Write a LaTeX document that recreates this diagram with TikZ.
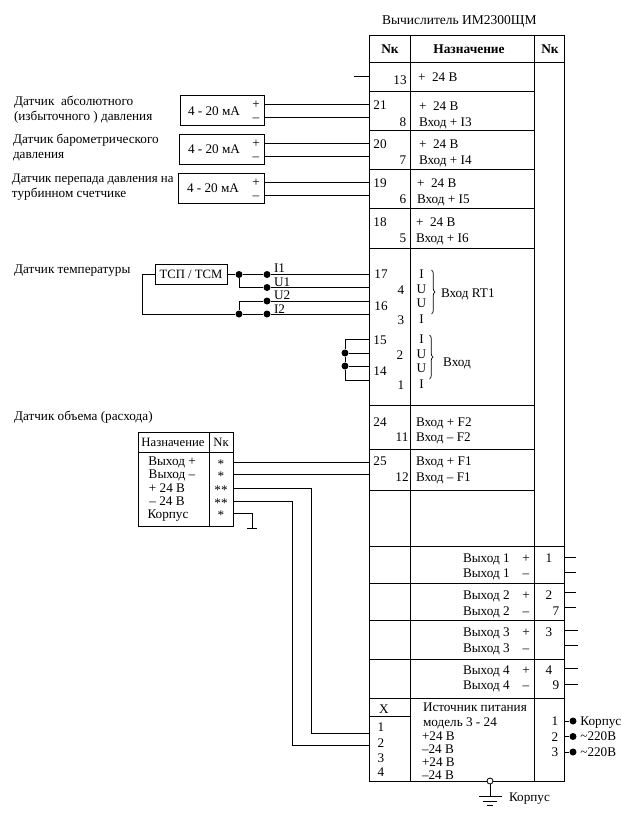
\documentclass[tikz,border=0pt]{standalone}
\usepackage{fontspec}
\setmainfont{Liberation Serif}
\usepackage{xcolor}
\usetikzlibrary{positioning, arrows.meta, decorations.pathreplacing}

\begin{document}
\begin{tikzpicture}[x=1pt, y=-1pt, line width=0.8pt]

	% Styles
	\tikzset{
		txt/.style={inner sep=0pt, outer sep=0pt, text height=8.5pt, text depth=0pt, font=\fontsize{13.2}{15}\selectfont},
		ltxt/.style={txt, anchor=west},
		boldtxt/.style={txt, font=\fontsize{13.4}{15}\selectfont\bfseries},
		smalltxt/.style={txt, font=\fontsize{12.7}{15}\selectfont},
		framebox/.style={rectangle, draw, inner sep=0pt, outer sep=0pt, anchor=north west},
		sensorbox/.style={framebox, minimum height=30pt},
		dot/.style={circle, fill=black, inner sep=0pt, minimum size=7pt},
		bracelin/.style={decorate, decoration={brace, amplitude=3.5pt}, line width=0.7pt}
	}

	\useasboundingbox (0,0) rectangle (634,823);

	% Main table
	\node (title) [ltxt, font=\fontsize{13.5}{15}\selectfont] at (382,20) {Вычислитель ИМ2300ЩМ};
	\node (main) [framebox, minimum width=195pt, minimum height=745.5pt] at (369,35.5) {};
	\draw (410.5,35.5) -- (410.5,781);
	\draw (534.5,35.5) -- (534.5,781);
	\draw (369,62) -- (564,62);
	\draw (369,91.5) -- (534.5,91.5);
	\draw (369,130) -- (534.5,130);
	\draw (369,169) -- (534.5,169);
	\draw (369,208) -- (534.5,208);
	\draw (369,248) -- (534.5,248);
	\draw (369,405) -- (534.5,405);
	\draw (369,449) -- (534.5,449);
	\draw (369,490) -- (534.5,490);
	\draw (369,546) -- (564,546);
	\draw (369,583) -- (564,583);
	\draw (369,620) -- (564,620);
	\draw (369,659) -- (564,659);
	\draw (369,698) -- (564,698);
	\draw (369,716) -- (410.5,716);

	\node (nk1) [boldtxt] at (390,49) {Nк};
	\node (naz) [boldtxt] at (469,49) {Назначение};
	\node (nk2) [boldtxt] at (550,49) {Nк};

	% Pins, left column
	\node (t13) [txt] at (400,80) {13};
	\node (t21) [txt] at (380,105) {21};
	\node (t8) [txt] at (403,122) {8};
	\node (t20) [txt] at (380,144) {20};
	\node (t7) [txt] at (403,160) {7};
	\node (t19) [txt] at (380,183) {19};
	\node (t6) [txt] at (403,199) {6};
	\node (t18) [txt] at (380,222) {18};
	\node (t5) [txt] at (403,238) {5};
	\node (t17) [txt] at (381,274) {17};
	\node (t4) [txt] at (401,290) {4};
	\node (t16) [txt] at (381,306) {16};
	\node (t3) [txt] at (401,320) {3};
	\node (t15) [txt] at (380,340) {15};
	\node (t2) [txt] at (400,355) {2};
	\node (t14) [txt] at (380,371) {14};
	\node (t1) [txt] at (401,385) {1};
	\node (t24) [txt] at (380,422) {24};
	\node (t11) [txt] at (402,437) {11};
	\node (t25) [txt] at (380,461) {25};
	\node (t12) [txt] at (402,477) {12};

	% Purpose column
	\node (p13) [ltxt] at (418,77) {+ \ 24 В};
	\node (p21) [ltxt] at (419,106) {+ \ 24 В};
	\node (p8) [ltxt] at (419,122) {Вход + I3};
	\node (p20) [ltxt] at (419,144) {+ \ 24 В};
	\node (p7) [ltxt] at (419,160) {Вход + I4};
	\node (p19) [ltxt] at (417,183) {+ \ 24 В};
	\node (p6) [ltxt] at (417,199) {Вход + I5};
	\node (p18) [ltxt] at (416,222) {+ \ 24 В};
	\node (p5) [ltxt] at (416,238) {Вход + I6};

	\node (ia) [txt] at (421.5,274) {I};
	\node (ub) [txt] at (421.5,289) {U};
	\node (uc) [txt] at (421.5,303) {U};
	\node (id) [txt] at (421.5,319) {I};
	\draw[bracelin] (431.5,270) -- (431.5,314);
	\node (rt1) [ltxt] at (441,293) {Вход RT1};

	\node (ie) [txt] at (421.5,339) {I};
	\node (uf) [txt] at (421.5,354) {U};
	\node (ug) [txt] at (421.5,368) {U};
	\node (ih) [txt] at (421.5,384) {I};
	\draw[bracelin] (429.5,335) -- (429.5,379);
	\node (vhod) [txt] at (457,362) {Вход};

	\node (f2p) [ltxt] at (416,422) {Вход + F2};
	\node (f2m) [ltxt] at (416,437) {Вход -- F2};
	\node (f1p) [ltxt] at (416,461) {Вход + F1};
	\node (f1m) [ltxt] at (416,477) {Вход -- F1};

	% Outputs
	\node (o1p) [ltxt] at (463,558) {Выход 1};
	\node (o1m) [ltxt] at (463,573) {Выход 1};
	\node (o2p) [ltxt] at (463,595) {Выход 2};
	\node (o2m) [ltxt] at (463,611) {Выход 2};
	\node (o3p) [ltxt] at (463,632) {Выход 3};
	\node (o3m) [ltxt] at (463,648) {Выход 3};
	\node (o4p) [ltxt] at (463,670) {Выход 4};
	\node (o4m) [ltxt] at (463,685) {Выход 4};
	\node (s1p) [txt] at (526,558) {+};
	\node (s1m) [txt] at (526,573) {--};
	\node (s2p) [txt] at (526,595) {+};
	\node (s2m) [txt] at (526,611) {--};
	\node (s3p) [txt] at (526,632) {+};
	\node (s3m) [txt] at (526,648) {--};
	\node (s4p) [txt] at (526,670) {+};
	\node (s4m) [txt] at (526,685) {--};
	\node (r1) [txt] at (549,558) {1};
	\node (r2) [txt] at (549,595) {2};
	\node (r7) [txt] at (556,611) {7};
	\node (r3) [txt] at (549,632) {3};
	\node (r4) [txt] at (549,670) {4};
	\node (r9) [txt] at (556,685) {9};

	% Output stubs
	\coordinate (e1p) at (576,557);
	\coordinate (e1m) at (576,572);
	\coordinate (e2p) at (576,592);
	\coordinate (e2m) at (576,607);
	\coordinate (e3p) at (578,630);
	\coordinate (e3m) at (578,645);
	\coordinate (e4p) at (578,668);
	\coordinate (e4m) at (578,684);
	\draw (main.east |- e1p) -- (e1p);
	\draw (main.east |- e1m) -- (e1m);
	\draw (main.east |- e2p) -- (e2p);
	\draw (main.east |- e2m) -- (e2m);
	\draw (main.east |- e3p) -- (e3p);
	\draw (main.east |- e3m) -- (e3m);
	\draw (main.east |- e4p) -- (e4p);
	\draw (main.east |- e4m) -- (e4m);

	% Power supply
	\node (xh) [txt] at (384,709) {X};
	\node (x1) [txt] at (381,727) {1};
	\node (x2) [txt] at (381,743) {2};
	\node (x3) [txt] at (381,758) {3};
	\node (x4) [txt] at (381,772) {4};
	\node (psa) [ltxt] at (423,707) {Источник питания};
	\node (psb) [ltxt] at (423,722) {модель 3 - 24};
	\node (psc) [ltxt] at (422,736) {+24 В};
	\node (psd) [ltxt] at (422,749) {--24 В};
	\node (pse) [ltxt] at (422,762) {+24 В};
	\node (psf) [ltxt] at (422,775) {--24 В};
	\node (m1) [txt] at (555,721) {1};
	\node (m2) [txt] at (555,737) {2};
	\node (m3) [txt] at (555,752) {3};
	\node (md1) [dot] at (573,721) {};
	\node (md2) [dot] at (573,736.5) {};
	\node (md3) [dot] at (573,752) {};
	\node (ml1) [ltxt, right=3.5pt of md1] {Корпус};
	\node (ml2) [ltxt, right=3.5pt of md2] {\textasciitilde220В};
	\node (ml3) [ltxt, right=3.5pt of md3] {\textasciitilde220В};
	\draw (main.east |- md1) -- (md1);
	\draw (main.east |- md2) -- (md2);
	\draw (main.east |- md3) -- (md3);

	% Ground
	\node (gnd) [circle, draw, fill=white, inner sep=0pt, minimum size=6pt] at (490,781) {};
	\coordinate (gb) at (490,796);
	\draw (gnd.south) -- (gb);
	\draw (479,796) -- (502,796);
	\draw (483,801) -- (497,801);
	\draw (487,805) -- (493,805);
	\node (gl) [ltxt] at (509,797) {Корпус};

	% Stub of pin 13
	\coordinate (e13) at (354,76);
	\draw (e13) -- (main.west |- e13);

	% Sensors 4-20 mA
	\node (la1) [ltxt] at (14,101) {Датчик \ абсолютного};
	\node (la2) [ltxt] at (14,116) {(избыточного ) давления};
	\node (lb1) [ltxt] at (13,139) {Датчик барометрического};
	\node (lb2) [ltxt] at (13,154) {давления};
	\node (lc1) [ltxt, font=\fontsize{12.9}{15}\selectfont] at (12,178) {Датчик перепада давления на};
	\node (lc2) [ltxt] at (12,193) {турбинном счетчике};

	\node (boxa) [sensorbox, minimum width=84pt] at (180,95) {};
	\node (boxb) [sensorbox, minimum width=85pt] at (179,134) {};
	\node (boxc) [sensorbox, minimum width=85.5pt] at (178.5,173) {};
	\node (cura) [txt] at (214,111) {4 - 20 мА};
	\node (curb) [txt] at (214,149) {4 - 20 мА};
	\node (curc) [txt] at (213,188) {4 - 20 мА};
	\node (ap) [txt] at (256,104) {+};
	\node (am) [txt] at (256,117) {--};
	\node (bp) [txt] at (256,143) {+};
	\node (bm) [txt] at (256,156) {--};
	\node (cp) [txt] at (256,182) {+};
	\node (cm) [txt] at (256,195) {--};
	\draw (boxa.east |- ap) -- (main.west |- ap);
	\draw (boxa.east |- am) -- (main.west |- am);
	\draw (boxb.east |- bp) -- (main.west |- bp);
	\draw (boxb.east |- bm) -- (main.west |- bm);
	\draw (boxc.east |- cp) -- (main.west |- cp);
	\draw (boxc.east |- cm) -- (main.west |- cm);

	% Temperature sensor
	\node (ltemp) [ltxt] at (14,269) {Датчик температуры};
	\node (tsp) [framebox, minimum width=72pt, minimum height=20pt, font=\fontsize{12.7}{15}\selectfont] at (155,264.5) {ТСП / ТСМ};
	\node (da) [dot] at (239,274.5) {};
	\node (db) [dot] at (267,274.5) {};
	\node (dc) [dot] at (267,287.5) {};
	\node (dd) [dot] at (267,301) {};
	\node (de) [dot] at (267,314) {};
	\node (df) [dot] at (239,314) {};
	\draw (tsp.east) -- (da) -- (db) -- (main.west |- db);
	\draw (da) |- (dc) -- (main.west |- dc);
	\draw (df) |- (dd) -- (main.west |- dd);
	\draw (tsp.west) -- ++(-13,0) |- (df) -- (de) -- (main.west |- de);
	\node (li1) [ltxt] at (274,268) {I1};
	\node (lu1) [ltxt] at (274,282) {U1};
	\node (lu2) [ltxt] at (274,295) {U2};
	\node (li2) [ltxt] at (274,309) {I2};

	% Jumpers 15, 14
	\node (jb) [dot] at (345,353) {};
	\node (jc) [dot] at (345,366) {};
	\coordinate (ja) at (345,339.5);
	\coordinate (jd) at (345,380);
	\draw (main.west |- ja) -- (ja) -- (jb) -- (jc) -- (jd) -- (main.west |- jd);
	\draw (jb) -- (main.west |- jb);
	\draw (jc) -- (main.west |- jc);

	% Flow sensor
	\node (lflow) [ltxt] at (14,416) {Датчик объема (расхода)};
	\node (flow) [framebox, minimum width=95pt, minimum height=94pt] at (138,432) {};
	\draw (138,452) -- (233,452);
	\draw (209,432) -- (209,526);
	\node (fnaz) [smalltxt] at (173,442) {Назначение};
	\node (fnk) [smalltxt] at (221,442) {Nк};
	\node (fa) [txt] at (172,461) {Выход +};
	\node (fb) [txt] at (172,474) {Выход --};
	\node (fc) [txt] at (167,488) {+ 24 В};
	\node (fd) [txt] at (167,501) {-- 24 В};
	\node (fe) [txt] at (168,514) {Корпус};
	\node (sa) [txt] at (221,464) {*};
	\node (sb) [txt] at (221,476) {*};
	\node (sc) [txt] at (221,490) {**};
	\node (sd) [txt] at (221,503) {**};
	\node (se) [txt] at (221,515) {*};

	\coordinate (wa) at (233,462);
	\coordinate (wb) at (233,474);
	\coordinate (wc) at (233,488);
	\coordinate (wd) at (233,501);
	\coordinate (we) at (233,513);
	\coordinate (xa) at (369,733);
	\coordinate (xb) at (369,745);
	\coordinate (ge) at (252,528);
	\draw (wa) -- (main.west |- wa);
	\draw (wb) -- (main.west |- wb);
	\draw (wc) -- (311,488) |- (xa);
	\draw (wd) -- (292,501) |- (xb);
	\draw (we) -| (ge);
	\draw (247,528) -- (257,528);

\end{tikzpicture}
\end{document}
